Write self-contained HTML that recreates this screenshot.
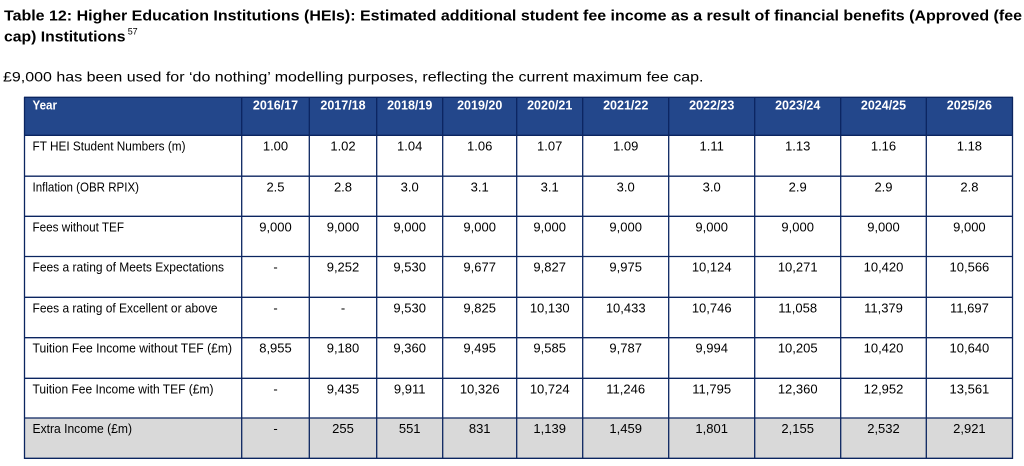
<!DOCTYPE html>
<html><head><meta charset="utf-8"><style>
html,body{margin:0;padding:0;background:#fff;width:1024px;height:466px;overflow:hidden}
svg{display:block}
text{font-family:"Liberation Sans",Arial,sans-serif;fill:#000}
.t{font-weight:bold;font-size:14.6px}
.s{font-size:14px}
.h{font-weight:bold;font-size:12.5px;fill:#fff;text-anchor:middle}
.l{font-size:13px}
.d{font-size:13px;text-anchor:middle}
</style></head><body>
<svg width="1024" height="466" viewBox="0 0 1024 466" xmlns="http://www.w3.org/2000/svg">
<text class="t" x="4" y="20.5" textLength="1018" lengthAdjust="spacingAndGlyphs">Table 12: Higher Education Institutions (HEIs): Estimated additional student fee income as a result of financial benefits (Approved (fee</text>
<text class="t" x="4" y="41.3" textLength="121.5" lengthAdjust="spacingAndGlyphs">cap) Institutions</text>
<text x="127.7" y="34.7" style="font-size:9px" textLength="10" lengthAdjust="spacingAndGlyphs">57</text>
<text class="s" x="3" y="81.5" textLength="700.5" lengthAdjust="spacingAndGlyphs">£9,000 has been used for ‘do nothing’ modelling purposes, reflecting the current maximum fee cap.</text>

<rect x="24.5" y="97.3" width="988" height="38" fill="#23478B"/>
<rect x="24.5" y="418" width="988" height="40.3" fill="#D9D9D9"/>

<g stroke="#0B2560" stroke-width="1.3" fill="none">
<line x1="24" y1="97.3" x2="1013" y2="97.3"/>
<line x1="24" y1="135.3" x2="1013" y2="135.3"/>
<line x1="24" y1="176.2" x2="1013" y2="176.2"/>
<line x1="24" y1="216.3" x2="1013" y2="216.3"/>
<line x1="24" y1="256.5" x2="1013" y2="256.5"/>
<line x1="24" y1="297.3" x2="1013" y2="297.3"/>
<line x1="24" y1="337.7" x2="1013" y2="337.7"/>
<line x1="24" y1="378.3" x2="1013" y2="378.3"/>
<line x1="24" y1="418" x2="1013" y2="418"/>
<line x1="24" y1="458.3" x2="1013" y2="458.3"/>
<line x1="24.5" y1="97" x2="24.5" y2="459"/>
<line x1="241.7" y1="97" x2="241.7" y2="459"/>
<line x1="309.3" y1="97" x2="309.3" y2="459"/>
<line x1="376.7" y1="97" x2="376.7" y2="459"/>
<line x1="442.7" y1="97" x2="442.7" y2="459"/>
<line x1="516.7" y1="97" x2="516.7" y2="459"/>
<line x1="582.7" y1="97" x2="582.7" y2="459"/>
<line x1="668.7" y1="97" x2="668.7" y2="459"/>
<line x1="754.7" y1="97" x2="754.7" y2="459"/>
<line x1="840.7" y1="97" x2="840.7" y2="459"/>
<line x1="926.3" y1="97" x2="926.3" y2="459"/>
<line x1="1012.5" y1="97" x2="1012.5" y2="459"/>
</g>

<!-- header -->
<text x="32.5" y="109.5" style="font-weight:bold;font-size:12.5px;fill:#fff" textLength="24.5" lengthAdjust="spacingAndGlyphs">Year</text>
<text class="h" x="275.5" y="109.5">2016/17</text>
<text class="h" x="343" y="109.5">2017/18</text>
<text class="h" x="409.7" y="109.5">2018/19</text>
<text class="h" x="479.7" y="109.5">2019/20</text>
<text class="h" x="549.7" y="109.5">2020/21</text>
<text class="h" x="625.7" y="109.5">2021/22</text>
<text class="h" x="711.7" y="109.5">2022/23</text>
<text class="h" x="797.7" y="109.5">2023/24</text>
<text class="h" x="883.5" y="109.5">2024/25</text>
<text class="h" x="969.4" y="109.5">2025/26</text>

<!-- labels -->
<text class="l" x="32.5" y="150.3" textLength="153" lengthAdjust="spacingAndGlyphs">FT HEI Student Numbers (m)</text>
<text class="l" x="32.5" y="191.3" textLength="106.5" lengthAdjust="spacingAndGlyphs">Inflation (OBR RPIX)</text>
<text class="l" x="32.5" y="231.3" textLength="91.5" lengthAdjust="spacingAndGlyphs">Fees without TEF</text>
<text class="l" x="32.5" y="271.5" textLength="191.5" lengthAdjust="spacingAndGlyphs">Fees a rating of Meets Expectations</text>
<text class="l" x="32.5" y="312.3" textLength="185" lengthAdjust="spacingAndGlyphs">Fees a rating of Excellent or above</text>
<text class="l" x="32.5" y="352.7" textLength="199.5" lengthAdjust="spacingAndGlyphs">Tuition Fee Income without TEF (£m)</text>
<text class="l" x="32.5" y="393.3" textLength="181" lengthAdjust="spacingAndGlyphs">Tuition Fee Income with TEF (£m)</text>
<text class="l" x="32.5" y="432.8" textLength="99.5" lengthAdjust="spacingAndGlyphs">Extra Income (£m)</text>

<!-- data rows -->
<g>
<text class="d" x="275.5" y="150.3">1.00</text><text class="d" x="343" y="150.3">1.02</text><text class="d" x="409.7" y="150.3">1.04</text><text class="d" x="479.7" y="150.3">1.06</text><text class="d" x="549.7" y="150.3">1.07</text><text class="d" x="625.7" y="150.3">1.09</text><text class="d" x="711.7" y="150.3">1.11</text><text class="d" x="797.7" y="150.3">1.13</text><text class="d" x="883.5" y="150.3">1.16</text><text class="d" x="969.4" y="150.3">1.18</text>

<text class="d" x="275.5" y="191.3">2.5</text><text class="d" x="343" y="191.3">2.8</text><text class="d" x="409.7" y="191.3">3.0</text><text class="d" x="479.7" y="191.3">3.1</text><text class="d" x="549.7" y="191.3">3.1</text><text class="d" x="625.7" y="191.3">3.0</text><text class="d" x="711.7" y="191.3">3.0</text><text class="d" x="797.7" y="191.3">2.9</text><text class="d" x="883.5" y="191.3">2.9</text><text class="d" x="969.4" y="191.3">2.8</text>

<text class="d" x="275.5" y="231.3">9,000</text><text class="d" x="343" y="231.3">9,000</text><text class="d" x="409.7" y="231.3">9,000</text><text class="d" x="479.7" y="231.3">9,000</text><text class="d" x="549.7" y="231.3">9,000</text><text class="d" x="625.7" y="231.3">9,000</text><text class="d" x="711.7" y="231.3">9,000</text><text class="d" x="797.7" y="231.3">9,000</text><text class="d" x="883.5" y="231.3">9,000</text><text class="d" x="969.4" y="231.3">9,000</text>

<text class="d" x="275.5" y="271.5">-</text><text class="d" x="343" y="271.5">9,252</text><text class="d" x="409.7" y="271.5">9,530</text><text class="d" x="479.7" y="271.5">9,677</text><text class="d" x="549.7" y="271.5">9,827</text><text class="d" x="625.7" y="271.5">9,975</text><text class="d" x="711.7" y="271.5">10,124</text><text class="d" x="797.7" y="271.5">10,271</text><text class="d" x="883.5" y="271.5">10,420</text><text class="d" x="969.4" y="271.5">10,566</text>

<text class="d" x="275.5" y="312.3">-</text><text class="d" x="343" y="312.3">-</text><text class="d" x="409.7" y="312.3">9,530</text><text class="d" x="479.7" y="312.3">9,825</text><text class="d" x="549.7" y="312.3">10,130</text><text class="d" x="625.7" y="312.3">10,433</text><text class="d" x="711.7" y="312.3">10,746</text><text class="d" x="797.7" y="312.3">11,058</text><text class="d" x="883.5" y="312.3">11,379</text><text class="d" x="969.4" y="312.3">11,697</text>

<text class="d" x="275.5" y="352.7">8,955</text><text class="d" x="343" y="352.7">9,180</text><text class="d" x="409.7" y="352.7">9,360</text><text class="d" x="479.7" y="352.7">9,495</text><text class="d" x="549.7" y="352.7">9,585</text><text class="d" x="625.7" y="352.7">9,787</text><text class="d" x="711.7" y="352.7">9,994</text><text class="d" x="797.7" y="352.7">10,205</text><text class="d" x="883.5" y="352.7">10,420</text><text class="d" x="969.4" y="352.7">10,640</text>

<text class="d" x="275.5" y="393.3">-</text><text class="d" x="343" y="393.3">9,435</text><text class="d" x="409.7" y="393.3">9,911</text><text class="d" x="479.7" y="393.3">10,326</text><text class="d" x="549.7" y="393.3">10,724</text><text class="d" x="625.7" y="393.3">11,246</text><text class="d" x="711.7" y="393.3">11,795</text><text class="d" x="797.7" y="393.3">12,360</text><text class="d" x="883.5" y="393.3">12,952</text><text class="d" x="969.4" y="393.3">13,561</text>

<text class="d" x="275.5" y="432.8">-</text><text class="d" x="343" y="432.8">255</text><text class="d" x="409.7" y="432.8">551</text><text class="d" x="479.7" y="432.8">831</text><text class="d" x="549.7" y="432.8">1,139</text><text class="d" x="625.7" y="432.8">1,459</text><text class="d" x="711.7" y="432.8">1,801</text><text class="d" x="797.7" y="432.8">2,155</text><text class="d" x="883.5" y="432.8">2,532</text><text class="d" x="969.4" y="432.8">2,921</text>
</g>
</svg>
</body></html>
